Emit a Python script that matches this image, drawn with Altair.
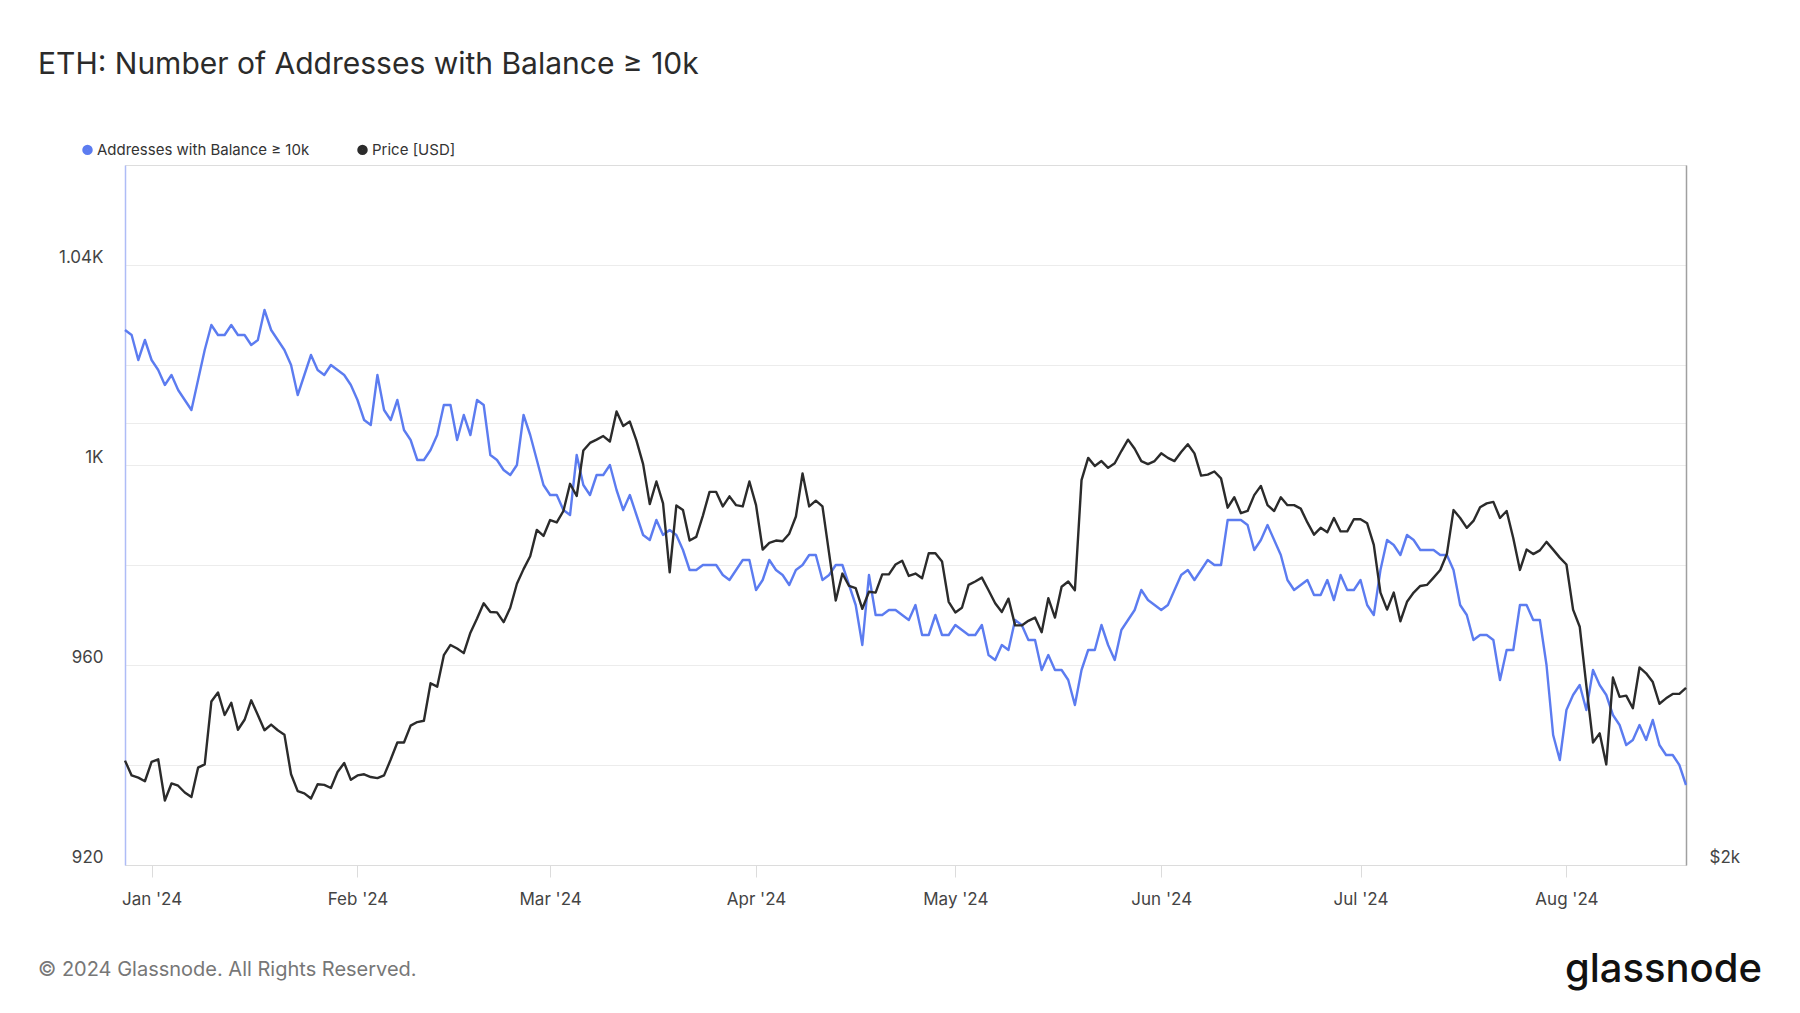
import altair as alt
import pandas as pd

TITLE = "ETH: Number of Addresses with Balance ≥ 10k"
SERIES = ["Addresses with Balance ≥ 10k", "Price [USD]"]
COLORS = ["#5c7cf0", "#2b2b2b"]
FOOTER = "© 2024 Glassnode. All Rights Reserved."
LOGO = "glassnode"
START_DATE = "2023-12-28"
END_DATE = "2024-08-19"

# Number of addresses holding >= 10k ETH (daily, Dec 28 2023 - Aug 19 2024)
addresses = [
    1027, 1026, 1021, 1025, 1021, 1019, 1016, 1018, 1015, 1013,
    1011, 1017, 1023, 1028, 1026, 1026, 1028, 1026, 1026, 1024,
    1025, 1031, 1027, 1025, 1023, 1020, 1014, 1018, 1022, 1019,
    1018, 1020, 1019, 1018, 1016, 1013, 1009, 1008, 1018, 1011,
    1009, 1013,
    1007, 1005, 1001, 1001, 1003, 1006, 1012, 1012, 1005, 1010,
    1006, 1013, 1012, 1002, 1001, 999, 998, 1000, 1010, 1006,
    1001, 996, 994, 994, 991, 990, 1002, 996, 994, 998,
    998, 1000, 995, 991, 994, 990, 986, 985, 989, 986,
    987, 986, 983, 979, 979, 980, 980, 980, 978, 977,
    979, 981, 981, 975, 977, 981, 979, 978, 976, 979,
    980, 982, 982, 977, 978, 980, 980, 976, 972, 964,
    978, 970, 970, 971, 971, 970, 969, 972, 966, 966,
    970,
    966, 966, 968, 967, 966, 966, 968, 962, 961, 964,
    963, 969, 968, 965, 965, 959, 962, 959, 959, 957,
    952, 959, 963, 963, 968, 964, 961, 967, 969, 971,
    975, 973, 972, 971, 972, 975, 978, 979, 977, 979,
    981,
    980, 980, 989, 989, 989, 988, 983, 985, 988, 985,
    982, 977, 975, 976, 977, 974, 974, 977, 973, 978,
    975, 975, 977, 972, 970, 979, 985, 984, 982, 986,
    985, 983, 983, 983, 982, 982, 979, 972, 970, 965,
    966, 966, 965, 957, 963, 963, 972, 972, 969, 969,
    960, 946, 941, 951, 954, 956, 951, 959, 956, 954,
    950, 948, 944, 945, 948, 945, 949, 944, 942, 942,
    940, 936,
]

# ETH price in USD (daily)
price = [
    2356, 2302, 2294, 2281, 2351, 2361, 2213, 2273, 2265, 2241,
    2225, 2330, 2342, 2585, 2622, 2531, 2580, 2473, 2512, 2590,
    2531, 2471, 2493, 2471, 2454, 2306, 2246, 2238, 2220, 2270,
    2268, 2257, 2314, 2347, 2286, 2302, 2306, 2296, 2292, 2302,
    2360, 2424,
    2424, 2489, 2503, 2508, 2660, 2646, 2780, 2825, 2809, 2789,
    2880, 2945, 3016, 2975, 2973, 2928, 2995, 3110, 3182, 3247,
    3384, 3352, 3437, 3424, 3486, 3638, 3569, 3833, 3879, 3899,
    3921, 3888, 4075, 3983, 4011, 3893, 3752, 3524, 3651, 3528,
    3166, 3516, 3491, 3328, 3347, 3461, 3592, 3592, 3511, 3567,
    3518, 3511, 3651, 3518, 3281, 3316, 3328, 3324, 3364, 3456,
    3698, 3511, 3543, 3511, 3262, 3029, 3160, 3099, 3089, 2990,
    3071, 3067, 3156, 3156, 3205, 3224, 3148, 3160, 3137, 3262,
    3262,
    3220, 3023, 2973, 2995, 3104, 3121, 3140, 3078, 3016, 2975,
    3038, 2913, 2913, 2934, 2949, 2882, 3040, 2949, 3095, 3121,
    3078, 3659, 3789, 3741, 3770, 3730, 3757, 3830, 3899, 3844,
    3770, 3752, 3770, 3816, 3789, 3770, 3824, 3871, 3816, 3685,
    3691,
    3709, 3669, 3504, 3562, 3474, 3486, 3574, 3626, 3518, 3486,
    3562, 3518, 3518, 3499, 3424, 3359, 3395, 3371, 3448, 3376,
    3376, 3441, 3441, 3419, 3305, 3067, 2986, 3067, 2932, 3023,
    3067, 3099, 3104, 3140, 3178, 3258, 3491, 3448, 3395, 3432,
    3506, 3528, 3536, 3448, 3486, 3340, 3178, 3281, 3258, 3277,
    3321, 3281, 3240, 3205, 2986, 2907, 2650, 2424, 2459, 2342,
    2684, 2604, 2609, 2558, 2727, 2702, 2665, 2576, 2598, 2616,
    2616, 2641,
]

ADDR_TICKS = [920, 940, 960, 980, 1000, 1020, 1040]
ADDR_DOMAIN = [920, 1060]
PRICE_TICKS = [2000, 4000]
PRICE_DOMAIN = [2000, 6000]

dates = pd.date_range(START_DATE, END_DATE, freq="D").strftime("%Y-%m-%d")
df = pd.concat([
    pd.DataFrame({"date": dates, "value": addresses, "series": SERIES[0]}),
    pd.DataFrame({"date": dates, "value": price, "series": SERIES[1]}),
], ignore_index=True)

FONT = "Inter"
GRID = "#ececec"

x_enc = alt.X(
    "date:T",
    scale=alt.Scale(type="utc", nice=False),
    axis=alt.Axis(
        title=None,
        grid=False,
        tickCount={"interval": "month", "step": 1},
        labelExpr="utcFormat(datum.value, \"%b '%y\")",
        labelFlush=False,
        domainColor="#dcdcdc",
        tickColor="#dcdcdc",
        tickSize=12,
        labelPadding=14,
        labelFontSize=17,
        labelColor="#444444",
        labelFont=FONT,
    ),
)

color_enc = alt.Color(
    "series:N",
    scale=alt.Scale(domain=SERIES, range=COLORS),
    legend=alt.Legend(
        title=None,
        orient="none",
        legendX=-45,
        legendY=-23,
        direction="horizontal",
        symbolType="circle",
        symbolSize=30,
        symbolStrokeWidth=5,
        labelFont=FONT,
        labelFontSize=15,
        labelColor="#333333",
        labelOffset=2,
        labelLimit=0,
        columnPadding=39,
        padding=0,
    ),
)

addr_line = alt.Chart(df).transform_filter(
    alt.datum.series == SERIES[0]
).mark_line(strokeWidth=2.4, strokeJoin="round").encode(
    x=x_enc,
    y=alt.Y(
        "value:Q",
        scale=alt.Scale(domain=ADDR_DOMAIN, zero=False, nice=False),
        axis=alt.Axis(
            title=None,
            orient="left",
            values=ADDR_TICKS,
            labelExpr="datum.value % 40 == 0 ? (datum.value >= 1000 ? format(datum.value / 1000, '.3~f') + 'K' : format(datum.value, 'd')) : ''",
            grid=True,
            gridColor=GRID,
            ticks=False,
            domainColor="#aebcf6",
            domainWidth=1.5,
            labelPadding=22,
            labelFontSize=17,
            labelColor="#444444",
            labelFont=FONT,
            labelBaseline="middle",
            labelOffset=-8,
        ),
    ),
    color=color_enc,
)

price_line = alt.Chart(df).transform_filter(
    alt.datum.series == SERIES[1]
).mark_line(strokeWidth=2.4, strokeJoin="round").encode(
    x=x_enc,
    y=alt.Y(
        "value:Q",
        scale=alt.Scale(type="log", domain=PRICE_DOMAIN, nice=False),
        axis=alt.Axis(
            title=None,
            orient="right",
            values=PRICE_TICKS,
            labelExpr="datum.value == 2000 ? '$2k' : ''",
            grid=True,
            gridColor=GRID,
            ticks=False,
            domainColor="#a0a0a0",
            domainWidth=1.5,
            labelPadding=23,
            labelFontSize=17,
            labelColor="#444444",
            labelFont=FONT,
            labelBaseline="middle",
            labelOffset=-8,
        ),
    ),
    color=color_enc,
)

footer = alt.Chart(pd.DataFrame({"t": [FOOTER]})).mark_text(
    align="left", baseline="middle", font=FONT, fontSize=20, color="#777777"
).encode(x=alt.value(-87), y=alt.value(805), text="t:N")

logo = alt.Chart(pd.DataFrame({"t": [LOGO]})).mark_text(
    align="right", baseline="middle", font=FONT, fontSize=40, fontWeight=500,
    color="#111111"
).encode(x=alt.value(1637), y=alt.value(805), text="t:N")

chart = alt.layer(addr_line, price_line, footer, logo).resolve_scale(
    y="independent"
).properties(
    width=1561,
    height=700,
    autosize=alt.AutoSizeParams(type="none"),
    padding={"left": 117, "top": 157, "right": 100, "bottom": 133},
    title=alt.TitleParams(
        text=TITLE,
        anchor="start",
        frame="group",
        font=FONT,
        fontSize=30,
        fontWeight=400,
        color="#2b2b2b",
        dx=-87,
        offset=62,
    ),
).configure_view(
    stroke="#e6e6e6", strokeWidth=1
).configure(background="white")

chart.save("out.html", embed_options={"renderer": "svg", "actions": False})
